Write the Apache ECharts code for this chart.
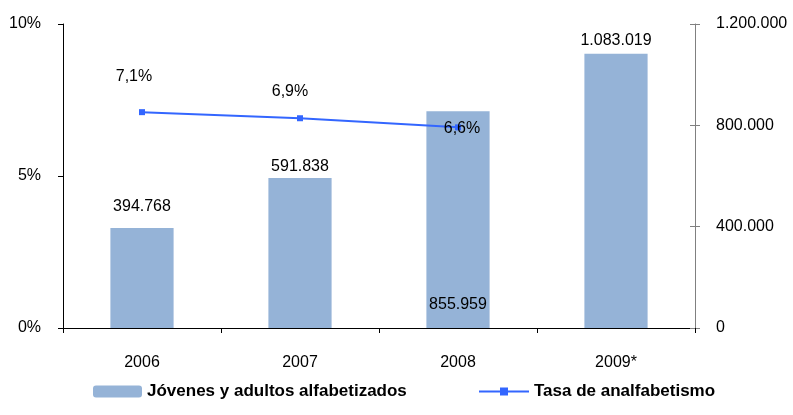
<!DOCTYPE html>
<html>
<head>
<meta charset="utf-8">
<script src="https://cdn.jsdelivr.net/npm/echarts@6/dist/echarts.min.js"></script>
<style>
  html, body { margin: 0; padding: 0; background: #fff; }
  #chart { width: 793px; height: 415px; }
</style>
</head>
<body>
<div id="chart"></div>
<script>
// datos
const years = ["2006", "2007", "2008", "2009*"];
const alfabetizados = [394768, 591838, 855959, 1083019];
const tasaAnalfabetismo = [7.1, 6.9, 6.6, null];

// formato español: 1.083.019 y 7,1%
function miles(v) {
  return String(v).replace(/\B(?=(\d{3})+(?!\d))/g, ".");
}

const chart = echarts.init(document.getElementById("chart"));
const font = "Liberation Sans, Arial, sans-serif";

// posición de cada etiqueta de barra
const barLabelCfg = [
  { position: "top", distance: 13 },
  { position: "top", distance: 3 },
  { position: "insideBottom", distance: 15 },
  { position: "top", distance: 5 },
];
// desplazamiento de cada etiqueta de la línea
const lineLabelCfg = [
  { position: "top", distance: 5, offset: [-8, -20] },
  { position: "top", distance: 5, offset: [-10, -11] },
  { position: "inside", offset: [4, 1] },
];

const option = {
  animation: false,
  textStyle: { fontFamily: font },
  grid: { left: 63, right: 98, top: 24, bottom: 87, containLabel: false },
  legend: [
    {
      data: ["Jóvenes y adultos alfabetizados"],
      left: 88,
      top: 378,
      itemWidth: 49,
      itemHeight: 12,
      textStyle: { fontSize: 17, fontWeight: "bold", color: "#000", fontFamily: font },
    },
    {
      data: ["Tasa de analfabetismo"],
      left: 473,
      top: 378,
      itemWidth: 50,
      itemHeight: 10,
      textStyle: { fontSize: 17, fontWeight: "bold", color: "#000", fontFamily: font },
    },
  ],
  xAxis: {
    type: "category",
    data: years,
    axisLine: { lineStyle: { color: "#000", width: 1 } },
    axisTick: { show: true, length: 5, lineStyle: { color: "#000" } },
    axisLabel: { color: "#000", fontSize: 16, margin: 27, fontFamily: font },
  },
  yAxis: [
    {
      type: "value",
      min: 0,
      max: 10,
      interval: 5,
      position: "left",
      splitLine: { show: false },
      axisLine: { show: true, lineStyle: { color: "#000" } },
      axisTick: { show: true, length: 5, lineStyle: { color: "#000" } },
      axisLabel: { color: "#000", fontSize: 16, margin: 22, formatter: "{value}%", fontFamily: font },
    },
    {
      type: "value",
      min: 0,
      max: 1200000,
      interval: 400000,
      position: "right",
      splitLine: { show: false },
      axisLine: { show: true, lineStyle: { color: "#808080" } },
      axisTick: { show: true, length: 5, lineStyle: { color: "#808080" } },
      axisLabel: { color: "#000", fontSize: 16, margin: 21, formatter: (v) => miles(v), fontFamily: font },
    },
    {
      // marcas interiores del eje derecho (cruzan el eje)
      type: "value",
      min: 0,
      max: 1200000,
      interval: 400000,
      position: "right",
      splitLine: { show: false },
      axisLine: { show: false },
      axisTick: { show: true, inside: true, length: 5, lineStyle: { color: "#808080" } },
      axisLabel: { show: false },
    },
  ],
  series: [
    {
      name: "Jóvenes y adultos alfabetizados",
      type: "bar",
      yAxisIndex: 1,
      barWidth: "40%",
      itemStyle: { color: "#95B3D7" },
      data: alfabetizados.map((v, i) => ({
        value: v,
        label: Object.assign({}, barLabelCfg[i]),
      })),
      label: {
        show: true,
        color: "#000",
        fontSize: 16,
        fontFamily: font,
        formatter: (p) => miles(p.value),
      },
    },
    {
      name: "Tasa de analfabetismo",
      type: "line",
      yAxisIndex: 0,
      symbol: "rect",
      symbolSize: 6,
      lineStyle: { color: "#3366FF", width: 2 },
      itemStyle: { color: "#3366FF" },
      data: tasaAnalfabetismo.map((v, i) => ({
        value: v,
        label: v == null ? undefined : Object.assign({}, lineLabelCfg[i]),
      })),
      label: {
        show: true,
        color: "#000",
        fontSize: 16,
        fontFamily: font,
        formatter: (p) => String(p.value).replace(".", ",") + "%",
      },
      z: 5,
    },
  ],
};

chart.setOption(option);
</script>
</body>
</html>
